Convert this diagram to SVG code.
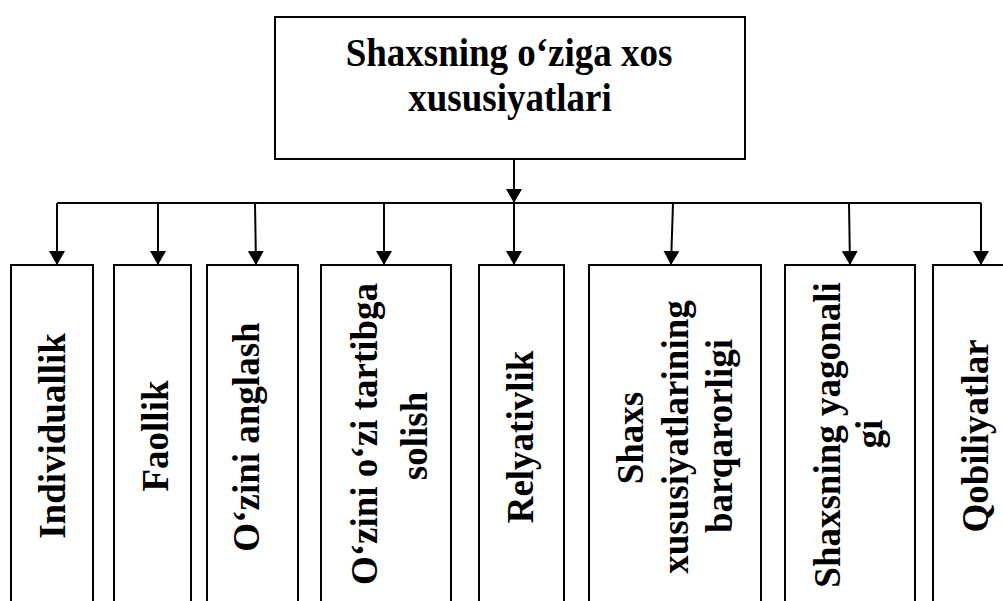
<svg xmlns="http://www.w3.org/2000/svg" width="1003" height="601" viewBox="0 0 1003 601">
<defs>
<style>
.box{fill:#fff;stroke:#000;stroke-width:2}
.t{font-family:"Liberation Serif","Times New Roman",serif;font-weight:bold;font-size:37px;fill:#000;text-anchor:middle}
.c{fill:none;stroke:#000;stroke-width:2}
</style>
<marker id="ah" viewBox="0 0 14 16" refX="14" refY="8" markerWidth="14" markerHeight="16" markerUnits="userSpaceOnUse" orient="auto">
<path d="M0,0 L14,8 L0,16 z" fill="#000"/>
</marker>
</defs>
<rect width="1003" height="601" fill="#fff"/>
<g id="connectors">
<line class="c" x1="514" y1="159" x2="514" y2="203" marker-end="url(#ah)"/>
<line class="c" x1="57" y1="203" x2="981" y2="203"/>
<line class="c" x1="57" y1="203" x2="57" y2="265" marker-end="url(#ah)"/>
<line class="c" x1="158" y1="203" x2="158" y2="265" marker-end="url(#ah)"/>
<line class="c" x1="255" y1="203" x2="256" y2="265" marker-end="url(#ah)"/>
<line class="c" x1="384" y1="203" x2="384" y2="265" marker-end="url(#ah)"/>
<line class="c" x1="514" y1="203" x2="514" y2="265" marker-end="url(#ah)"/>
<line class="c" x1="673" y1="203" x2="671" y2="265" marker-end="url(#ah)"/>
<line class="c" x1="849" y1="203" x2="850" y2="265" marker-end="url(#ah)"/>
<line class="c" x1="981" y1="203" x2="981" y2="265" marker-end="url(#ah)"/>
</g>
<g id="root">
<rect class="box" x="275" y="17" width="470" height="142"/>
<text class="t" transform="translate(509,66) scale(1,1.1)">Shaxsning o‘ziga xos</text>
<text class="t" transform="translate(510,111) scale(1,1.1)">xususiyatlari</text>
</g>
<g id="n1">
<path class="box" d="M11,605 V265 H93 V605"/>
<text class="t" transform="translate(65,436) rotate(-90)">Individuallik</text>
</g>
<g id="n2">
<path class="box" d="M114,605 V265 H191 V605"/>
<text class="t" transform="translate(168,436) rotate(-90)">Faollik</text>
</g>
<g id="n3">
<path class="box" d="M207,605 V265 H298 V605"/>
<text class="t" transform="translate(259,437) rotate(-90)">Oʻzini anglash</text>
</g>
<g id="n4">
<path class="box" d="M321,605 V265 H451 V605"/>
<text class="t" transform="translate(377,434) rotate(-90)">Oʻzini oʻzi tartibga</text>
<text class="t" transform="translate(427,436) rotate(-90)">solish</text>
</g>
<g id="n5">
<path class="box" d="M479,605 V265 H564 V605"/>
<text class="t" transform="translate(533,437) rotate(-90)">Relyativlik</text>
</g>
<g id="n6">
<path class="box" d="M589,605 V265 H761 V605"/>
<text class="t" transform="translate(643,438) rotate(-90)">Shaxs</text>
<text class="t" transform="translate(688,437) rotate(-90)">xususiyatlarining</text>
<text class="t" transform="translate(732,436) rotate(-90)">barqarorligi</text>
</g>
<g id="n7">
<path class="box" d="M785,605 V265 H915 V605"/>
<text class="t" transform="translate(840,435) rotate(-90)">Shaxsning yagonali</text>
<text class="t" transform="translate(882,434) rotate(-90)">gi</text>
</g>
<g id="n8">
<path class="box" d="M933,605 V265 H1010 V605"/>
<text class="t" transform="translate(988,436) rotate(-90)">Qobiliyatlar</text>
</g>
</svg>
